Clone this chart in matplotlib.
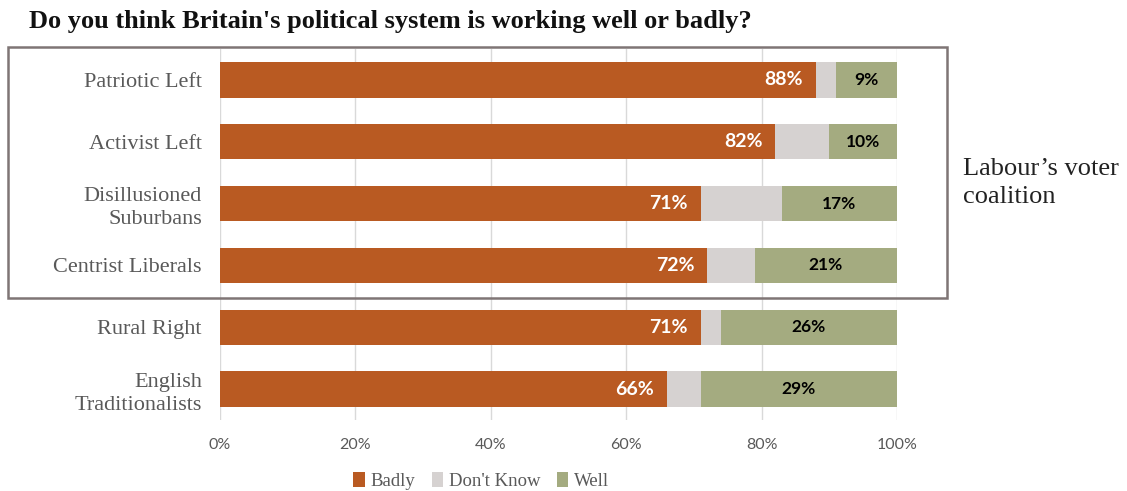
import matplotlib.pyplot as plt
from matplotlib.patches import Rectangle

categories = ["Patriotic Left", "Activist Left", "Disillusioned\nSuburbans",
              "Centrist Liberals", "Rural Right", "English\nTraditionalists"]
badly = [88, 82, 71, 72, 71, 66]
dont_know = [3, 8, 12, 7, 3, 5]
well = [9, 10, 17, 21, 26, 29]
series_names = ["Badly", "Don't Know", "Well"]
xticks = [0, 20, 40, 60, 80, 100]
xtick_labels = ["0%", "20%", "40%", "60%", "80%", "100%"]

c_badly = "#B95A22"
c_dk = "#D6D2D1"
c_well = "#A4AB80"
serif = ["Liberation Serif", "DejaVu Serif"]
sans = ["Lato", "DejaVu Sans"]

fig = plt.figure(figsize=(11.27, 4.91), dpi=100)
ax = fig.add_axes([0.1952, 0.1446, 0.6007, 0.7556])

y = list(range(len(categories)))
h = 0.57
ax.barh(y, badly, height=h, color=c_badly, label=series_names[0], zorder=3)
ax.barh(y, dont_know, left=badly, height=h, color=c_dk, label=series_names[1], zorder=3)
left3 = [b + d for b, d in zip(badly, dont_know)]
ax.barh(y, well, left=left3, height=h, color=c_well, label=series_names[2], zorder=3)

for i in y:
    ax.text(badly[i] - 1.9, i, f"{badly[i]}%", ha="right", va="center",
            color="white", fontsize=14, fontweight="bold", family=sans, zorder=4)
    ax.text(left3[i] + well[i] / 2, i, f"{well[i]}%", ha="center", va="center",
            color="black", fontsize=12.5, fontweight="bold", family=sans, zorder=4)

ax.set_xlim(0, 100)
ax.set_ylim(len(categories) - 0.5, -0.5)
ax.set_xticks(xticks)
ax.set_xticklabels(xtick_labels, family=sans, fontsize=11.5, color="#595959")
ax.set_yticks(y)
ax.set_yticklabels(categories, family=serif, fontsize=16, color="#595959",
                   linespacing=1.3)
ax.tick_params(axis="both", length=0)
ax.tick_params(axis="x", pad=13)
ax.tick_params(axis="y", pad=13)
for s in ax.spines.values():
    s.set_visible(False)
ax.grid(axis="x", color="#D9D9D9", linewidth=1, zorder=0)

fig.text(0.026, 0.957, "Do you think Britain's political system is working well or badly?",
         family=serif, fontsize=19, fontweight="bold", color="#111111", va="center")

# box around Labour's coalition segments
fig.patches.append(Rectangle((8 / 1127, 1 - 298 / 491), 939 / 1127, 251 / 491,
                             transform=fig.transFigure, fill=False,
                             edgecolor="#7F7575", linewidth=1.8))
fig.text(963 / 1127, 1 - 183 / 491, "Labour’s voter\ncoalition", family=serif,
         fontsize=19, color="#222222", va="center", ha="left", linespacing=1.3)

leg = fig.legend(loc="center", bbox_to_anchor=(0.427, 1 - 481 / 491), ncol=3,
                 frameon=False, prop={"family": serif, "size": 13.5},
                 handlelength=0.6, handleheight=0.9, handletextpad=0.3,
                 columnspacing=0.9)
for t in leg.get_texts():
    t.set_color("#595959")

fig.savefig("out.png", dpi=100)
